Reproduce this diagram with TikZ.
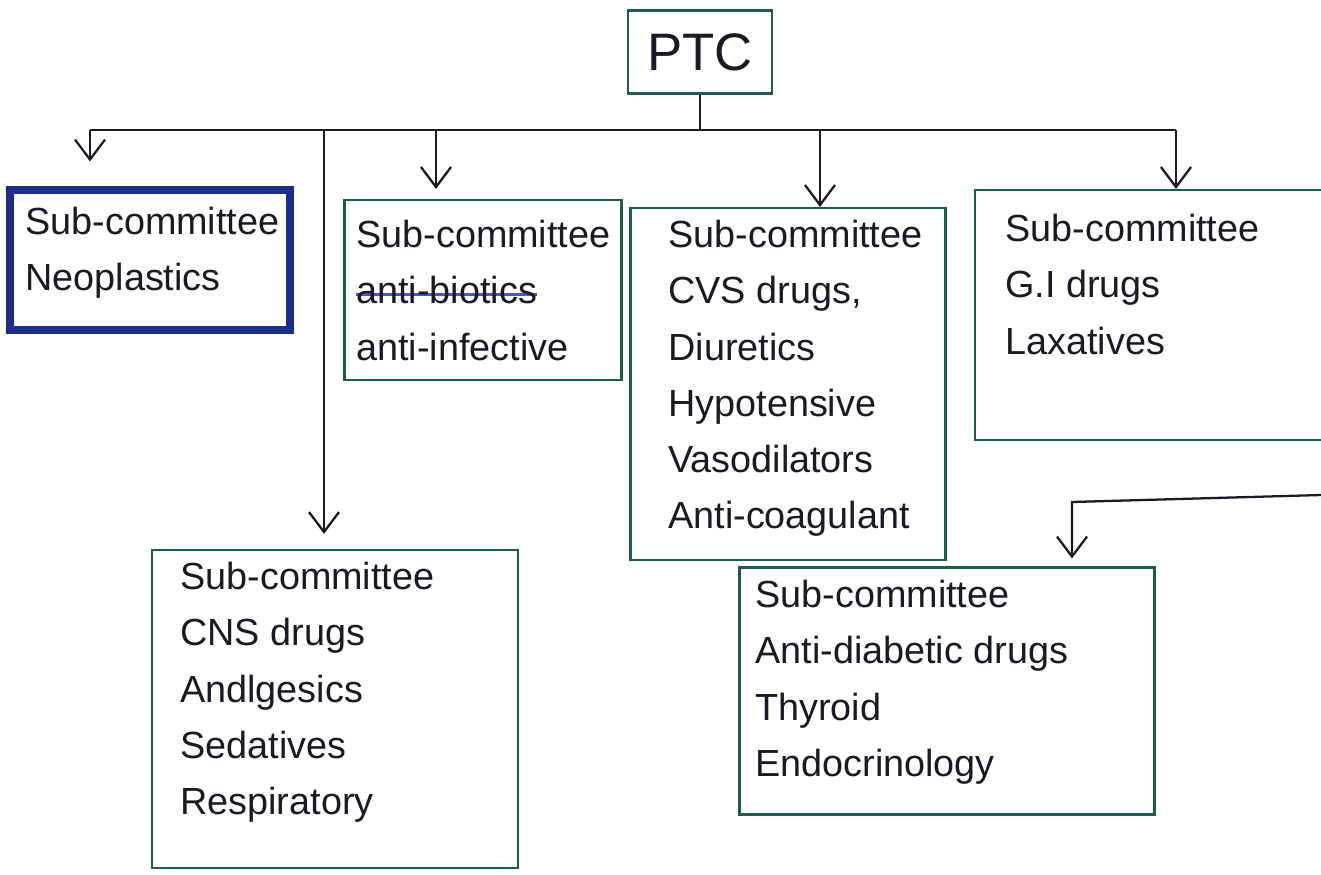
\documentclass[tikz,border=0pt]{standalone}
\usepackage{fontspec}
\setmainfont{Liberation Sans}
\usepackage{tikz}
\usetikzlibrary{arrows.meta, positioning}
\definecolor{ptcgreen}{HTML}{1F5C50}
\definecolor{ptcblue}{HTML}{1C2E85}
\definecolor{ptcink}{HTML}{1A1A24}
\definecolor{ptcstrike}{HTML}{4A55C8}
\newcommand{\strikeout}[1]{\setbox0\hbox{#1}\rlap{\textcolor{ptcstrike}{\rule[0.42ex]{\wd0}{1.3pt}}}\box0}

\begin{document}
\begin{tikzpicture}[x=0.2mm, y=-0.2mm,
  sbox/.style 2 args={draw=ptcgreen, line width=1.2pt, minimum width=#1,
    minimum height=#2, inner sep=0pt},
  items/.style={anchor=north west, align=left, inner sep=0pt,
    font=\fontsize{21.5}{32}\selectfont, text=ptcink},
  wire/.style={line width=1.3pt, draw=ptcink},
  arrow/.style={-{Straight Barb[length=4mm, width=6mm]}, line width=1.3pt, draw=ptcink}]
  \useasboundingbox (0,0) rectangle (1321,874);
  \clip (0,0) rectangle (1321,874);
  \fill[white] (0,0) rectangle (1321,874);

  \node[sbox={28.8mm}{16.6mm}, font=\fontsize{30}{36}\selectfont, text=ptcink] (ptc) at (700,52) {PTC};
  \node[sbox={56mm}{28mm}, draw=ptcblue, line width=4pt] (neo) at (150,260) {};
  \node[sbox={55.4mm}{36mm}] (anti) at (483,290) {};
  \node[sbox={63mm}{70.4mm}] (cvs) at (788,384) {};
  \node[sbox={74mm}{50mm}] (gi) at (1160,315) {};
  \node[sbox={73.2mm}{63.6mm}] (cns) at (335,709) {};
  \node[sbox={83mm}{49.4mm}] (endo) at (947,691) {};

  \node[items] (neotxt) at (25,207) {Sub-committee\\Neoplastics};
  \node[items] (antitxt) at (356,220) {Sub-committee\\\strikeout{anti-biotics}\\anti-infective};
  \node[items] (cvstxt) at (668,220) {Sub-committee\\CVS drugs,\\Diuretics\\Hypotensive\\Vasodilators\\Anti-coagulant};
  \node[items] (gitxt) at (1005,214) {Sub-committee\\G.I drugs\\Laxatives};
  \node[items] (cnstxt) at (180,562) {Sub-committee\\CNS drugs\\Andlgesics\\Sedatives\\Respiratory};
  \node[items] (endotxt) at (755,580) {Sub-committee\\Anti-diabetic drugs\\Thyroid\\Endocrinology};

  \coordinate (busW) at (90,130);
  \coordinate (busE) at (1176,130);
  \coordinate (tapC) at (324,130);
  \coordinate (tapA) at (436,130);
  \coordinate (tapV) at (820,130);
  \coordinate (edgeR) at (1321,495);
  \coordinate (bendE) at (1072,502);

  \draw[wire] (ptc) -- (ptc |- busW);
  \draw[wire] (busW) -- (busE);
  \draw[arrow, shorten >=5mm] (busW) -- (busW |- neo.north);
  \draw[arrow, shorten >=3mm] (tapC) -- (tapC |- cns.north);
  \draw[arrow, shorten >=2mm] (tapA) -- (tapA |- anti.north);
  \draw[arrow] (tapV) -- (tapV |- cvs.north);
  \draw[arrow] (busE) -- (busE |- gi.north);
  \draw[arrow, shorten >=1.6mm] (edgeR) -- (bendE) -- (bendE |- endo.north);
\end{tikzpicture}
\end{document}
